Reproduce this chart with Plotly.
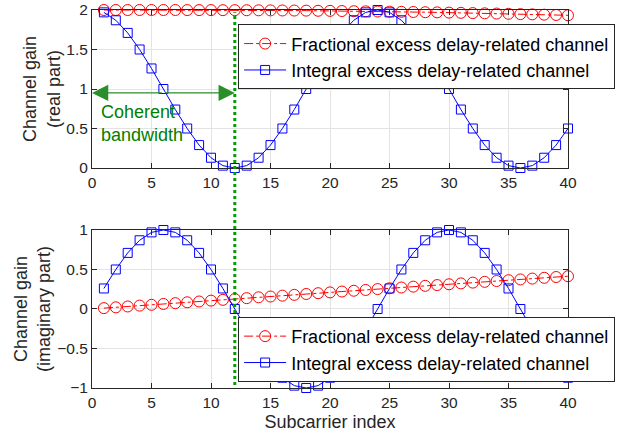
import plotly.graph_objects as go
from plotly.subplots import make_subplots

# Subcarrier indices
subcarrier = list(range(1, 41))

# Fractional excess delay-related channel (real / imaginary part)
frac_real = [2.000, 2.000, 2.000, 2.000, 2.000, 2.000, 2.000, 1.999, 1.999, 1.999,
             1.998, 1.998, 1.997, 1.996, 1.995, 1.994, 1.993, 1.992, 1.990, 1.989,
             1.987, 1.985, 1.983, 1.981, 1.979, 1.977, 1.975, 1.972, 1.970, 1.967,
             1.964, 1.961, 1.958, 1.955, 1.952, 1.948, 1.945, 1.941, 1.937, 1.933]
frac_imag = [0.011, 0.021, 0.032, 0.043, 0.053, 0.064, 0.074, 0.085, 0.095, 0.106,
             0.116, 0.127, 0.137, 0.148, 0.158, 0.169, 0.179, 0.190, 0.200, 0.210,
             0.221, 0.231, 0.241, 0.252, 0.262, 0.272, 0.283, 0.293, 0.303, 0.313,
             0.324, 0.334, 0.344, 0.354, 0.364, 0.374, 0.385, 0.395, 0.405, 0.415]

# Integral excess delay-related channel (real / imaginary part)
int_real = [1.97, 1.87, 1.71, 1.50, 1.26, 1.00, 0.74, 0.50, 0.29, 0.13,
            0.03, 0.00, 0.03, 0.13, 0.29, 0.50, 0.74, 1.00, 1.26, 1.50,
            1.71, 1.87, 1.97, 2.00, 1.97, 1.87, 1.71, 1.50, 1.26, 1.00,
            0.74, 0.50, 0.29, 0.13, 0.03, 0.00, 0.03, 0.13, 0.29, 0.50]
int_imag = [0.26, 0.50, 0.71, 0.87, 0.97, 1.00, 0.97, 0.87, 0.71, 0.50,
            0.26, 0.00, -0.26, -0.50, -0.71, -0.87, -0.97, -1.00, -0.97, -0.87,
            -0.71, -0.50, -0.26, 0.00, 0.26, 0.50, 0.71, 0.87, 0.97, 1.00,
            0.97, 0.87, 0.71, 0.50, 0.26, 0.00, -0.26, -0.50, -0.71, -0.87]

coherence_edge = 12      # subcarrier marking the coherent bandwidth
arrow_level = 0.95       # height of the bandwidth arrow on the real-part axes

x_ticks = [0, 5, 10, 15, 20, 25, 30, 35, 40]
real_ticks = [0, 0.5, 1, 1.5, 2]
imag_ticks = [-1, -0.5, 0, 0.5, 1]

name_frac = "Fractional excess delay-related channel"
name_int = "Integral excess delay-related channel"

RED = "#ff0000"
BLUE = "#0000ff"
GREEN = "#008000"
AXIS = "#262626"
FONT = "Liberation Sans, Arial, sans-serif"

fig = make_subplots(rows=2, cols=1, vertical_spacing=0.164)

for row, (fr, ir, legend) in enumerate(
        [(frac_real, int_real, "legend"), (frac_imag, int_imag, "legend2")], start=1):
    fig.add_trace(go.Scatter(
        x=subcarrier, y=fr, name=name_frac, mode="lines+markers",
        line=dict(color=RED, width=1, dash="dashdot"),
        marker=dict(symbol="circle-open", size=11, color=RED, line=dict(width=1)),
        cliponaxis=False, legend=legend), row=row, col=1)
    fig.add_trace(go.Scatter(
        x=subcarrier, y=ir, name=name_int, mode="lines+markers",
        line=dict(color=BLUE, width=1),
        marker=dict(symbol="square-open", size=9, color=BLUE, line=dict(width=1)),
        cliponaxis=False, legend=legend), row=row, col=1)

axis_common = dict(
    showline=True, linecolor=AXIS, linewidth=1, mirror="ticks",
    ticks="inside", ticklen=5, tickcolor=AXIS, automargin=False,
    showgrid=True, gridcolor="#e3e3e3", gridwidth=1,
    zeroline=False, tickfont=dict(size=15.5, color=AXIS, family=FONT),
)
title_font = dict(size=18, color=AXIS, family=FONT)

for r in (1, 2):
    fig.update_xaxes(range=[0, 40], tickvals=x_ticks, row=r, col=1, **axis_common)

fig.update_xaxes(title=dict(text="Subcarrier index", font=title_font, standoff=5),
                 row=2, col=1)
fig.update_yaxes(range=[0, 2], tickvals=real_ticks, row=1, col=1,
                 title=dict(text="Channel gain<br>(real part)", font=title_font, standoff=1),
                 **axis_common)
fig.update_yaxes(range=[-1, 1], tickvals=imag_ticks, row=2, col=1,
                 title=dict(text="Channel gain<br>(imaginary part)", font=title_font, standoff=1),
                 **axis_common)

# Coherent bandwidth marker spanning both panels
fig.add_shape(type="line", xref="x", yref="paper",
              x0=coherence_edge, x1=coherence_edge, y0=0.008, y1=0.994,
              line=dict(color="#00a000", width=3, dash="dot"))

# Double-headed arrow from 0 to the coherent bandwidth edge
mid = coherence_edge / 2
for tip in (0, coherence_edge):
    fig.add_annotation(x=tip, y=arrow_level, ax=mid, ay=arrow_level,
                       xref="x", yref="y", axref="x", ayref="y",
                       showarrow=True, arrowhead=2, arrowsize=2.5, arrowwidth=1.3,
                       arrowcolor="#2a8f2a", text="")
fig.add_annotation(x=0.6, y=0.56, xref="x", yref="y", xanchor="left", yanchor="middle",
                   text="Coherent<br>bandwidth", showarrow=False, align="left",
                   font=dict(size=18, color=GREEN, family=FONT))

legend_common = dict(
    bgcolor="white", bordercolor=AXIS, borderwidth=1,
    font=dict(size=18, color="black", family=FONT),
    xanchor="left", yanchor="top", tracegroupgap=0, itemsizing="trace",
    itemwidth=42,
)
fig.update_layout(
    legend=dict(x=0.307, y=0.962, **legend_common),
    legend2=dict(x=0.307, y=0.188, **legend_common),
    width=619, height=441,
    margin=dict(l=92, r=51, t=10, b=53, autoexpand=False),
    plot_bgcolor="white", paper_bgcolor="white",
    font=dict(family=FONT, color=AXIS),
)

fig.write_html("out.html")
